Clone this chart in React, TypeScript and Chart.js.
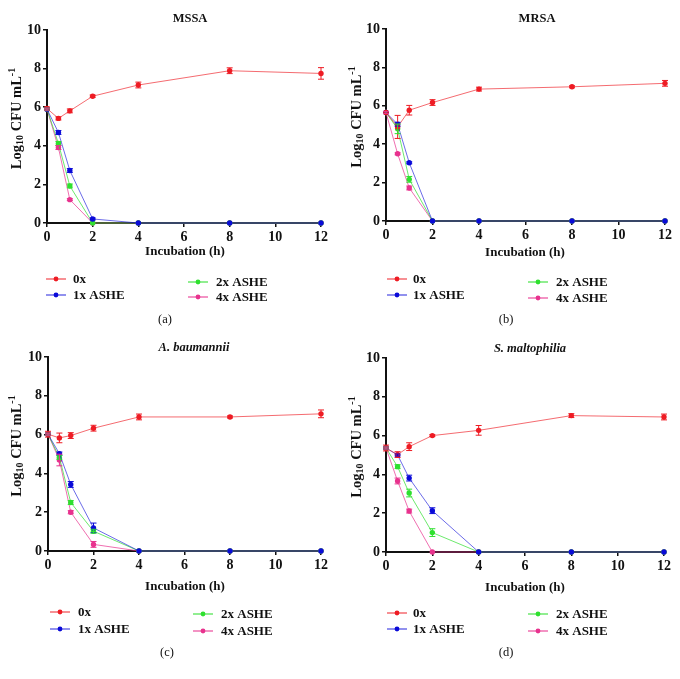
import React, { useEffect, useRef } from "react";
import { Chart, registerables } from "chart.js";
Chart.register(...registerables);

const hours = [0, 0.5, 1, 2, 4, 8, 12];
const seriesLabels = ["0x", "1x ASHE", "2x ASHE", "4x ASHE"];
const pointColors = ["#ee1c24", "#0a0ad8", "#2fe02f", "#e8328e"];
const lineColors = ["rgba(238,28,36,0.65)", "rgba(10,10,216,0.6)", "rgba(47,224,47,0.7)", "rgba(232,50,142,0.7)"];
const panelLetters = ["(a)", "(b)", "(c)", "(d)"];
const panelTitles = ["MSSA", "MRSA", "A. baumannii", "S. maltophilia"];

// MSSA
const mssa0x = [5.93, 5.42, 5.81, 6.57, 7.15, 7.89, 7.75];
const mssa0xErr = [0.08, 0.08, 0.1, 0.06, 0.15, 0.15, 0.3];
const mssa1x = [5.9, 4.69, 2.72, 0.21, 0, 0, 0];
const mssa1xErr = [0.05, 0.1, 0.1, 0.05, 0, 0, 0];
const mssa2x = [5.9, 4.12, 1.92, 0, 0, 0, 0];
const mssa2xErr = [0.05, 0.1, 0.1, 0, 0, 0, 0];
const mssa4x = [5.9, 3.91, 1.21, 0, 0, 0, 0];
const mssa4xErr = [0.05, 0.1, 0.05, 0, 0, 0, 0];

// MRSA
const mrsa0x = [5.65, 4.9, 5.77, 6.17, 6.87, 6.99, 7.17];
const mrsa0xErr = [0.05, 0.6, 0.25, 0.15, 0.1, 0.05, 0.15];
const mrsa1x = [5.65, 5.04, 3.03, 0, 0, 0, 0];
const mrsa1xErr = [0.05, 0.1, 0.05, 0, 0, 0, 0];
const mrsa2x = [5.65, 4.8, 2.17, 0, 0, 0, 0];
const mrsa2xErr = [0.05, 0.25, 0.15, 0, 0, 0, 0];
const mrsa4x = [5.65, 3.5, 1.72, 0, 0, 0, 0];
const mrsa4xErr = [0.05, 0.05, 0.1, 0, 0, 0, 0];

// A. baumannii
const ab0x = [6.02, 5.83, 5.95, 6.33, 6.91, 6.91, 7.07];
const ab0xErr = [0.15, 0.25, 0.15, 0.15, 0.15, 0.05, 0.2];
const ab1x = [6.02, 5.02, 3.43, 1.19, 0, 0, 0];
const ab1xErr = [0.05, 0.08, 0.15, 0.25, 0, 0, 0];
const ab2x = [6.02, 4.83, 2.5, 1.02, 0, 0, 0];
const ab2xErr = [0.05, 0.1, 0.1, 0.1, 0, 0, 0];
const ab4x = [6.02, 4.69, 2.0, 0.34, 0, 0, 0];
const ab4xErr = [0.05, 0.3, 0.08, 0.15, 0, 0, 0];

// S. maltophilia
const sm0x = [5.36, 5.02, 5.43, 6.0, 6.27, 7.03, 6.96];
const sm0xErr = [0.15, 0.15, 0.2, 0.05, 0.25, 0.1, 0.15];
const sm1x = [5.36, 5.0, 3.81, 2.13, 0, 0, 0];
const sm1xErr = [0.05, 0.05, 0.15, 0.15, 0, 0, 0];
const sm2x = [5.36, 4.4, 3.04, 1.0, 0, 0, 0];
const sm2xErr = [0.05, 0.1, 0.2, 0.2, 0, 0, 0];
const sm4x = [5.36, 3.66, 2.11, 0, 0, 0, 0];
const sm4xErr = [0.05, 0.15, 0.1, 0, 0, 0, 0];

const panelSeries = [
  [mssa0x, mssa1x, mssa2x, mssa4x],
  [mrsa0x, mrsa1x, mrsa2x, mrsa4x],
  [ab0x, ab1x, ab2x, ab4x],
  [sm0x, sm1x, sm2x, sm4x],
];
const panelErrors = [
  [mssa0xErr, mssa1xErr, mssa2xErr, mssa4xErr],
  [mrsa0xErr, mrsa1xErr, mrsa2xErr, mrsa4xErr],
  [ab0xErr, ab1xErr, ab2xErr, ab4xErr],
  [sm0xErr, sm1xErr, sm2xErr, sm4xErr],
];

type Layout = {
  ox: number; oy: number;
  l: number; r: number; t: number; b: number;
  titleX: number; titleY: number; xTitleY: number;
  rowsL: number[]; rowsR: number[];
  lineL: number; textL: number; lineR: number; textR: number;
  labX: number; labY: number; italic: boolean;
};

const layouts: Layout[] = [
  { ox: 0, oy: 0, l: 47, r: 321, t: 30, b: 223, titleX: 190, titleY: 14, xTitleY: 252, rowsL: [279, 295], rowsR: [282, 297], lineL: 46, textL: 73, lineR: 188, textR: 216, labX: 165, labY: 320, italic: false },
  { ox: 340, oy: 0, l: 46, r: 325, t: 29, b: 221, titleX: 197, titleY: 14, xTitleY: 253, rowsL: [279, 295], rowsR: [282, 298], lineL: 47, textL: 73, lineR: 188, textR: 216, labX: 166, labY: 320, italic: false },
  { ox: 0, oy: 340, l: 48, r: 321, t: 17, b: 211, titleX: 194, titleY: 3, xTitleY: 247, rowsL: [272, 289], rowsR: [274, 291], lineL: 50, textL: 78, lineR: 193, textR: 221, labX: 167, labY: 313, italic: true },
  { ox: 340, oy: 340, l: 46, r: 324, t: 18, b: 212, titleX: 190, titleY: 4, xTitleY: 248, rowsL: [273, 289], rowsR: [274, 291], lineL: 47, textL: 73, lineR: 188, textR: 216, labX: 166, labY: 313, italic: true },
];

const FONT = "'Liberation Serif', 'DejaVu Serif', serif";
const W = 340, H = 340, YW = 30, XH = 30;

function Panel({ idx }: { idx: number }) {
  const ref = useRef<HTMLCanvasElement | null>(null);
  useEffect(() => {
    const L = layouts[idx];
    const errs = panelErrors[idx];
    const decor = {
      id: "decor",
      afterDatasetsDraw(chart: any) {
        const ctx = chart.ctx;
        const xs = chart.scales.x, ys = chart.scales.y;
        ctx.save();
        chart.data.datasets.forEach((ds: any, di: number) => {
          ctx.strokeStyle = pointColors[di];
          ctx.lineWidth = 1;
          ds.data.forEach((p: any, i: number) => {
            const e = errs[di][i];
            if (!e) return;
            const px = xs.getPixelForValue(p.x);
            const y1 = ys.getPixelForValue(p.y + e);
            const y2 = ys.getPixelForValue(Math.max(0, p.y - e));
            ctx.beginPath();
            ctx.moveTo(px, y1); ctx.lineTo(px, y2);
            ctx.moveTo(px - 3, y1); ctx.lineTo(px + 3, y1);
            ctx.moveTo(px - 3, y2); ctx.lineTo(px + 3, y2);
            ctx.stroke();
          });
        });
        ctx.restore();
      },
      afterDraw(chart: any) {
        const ctx = chart.ctx;
        const ca = chart.chartArea;
        ctx.save();
        ctx.fillStyle = "#111";
        ctx.textBaseline = "middle";
        ctx.textAlign = "center";
        ctx.font = (L.italic ? "italic " : "") + "bold 12.5px " + FONT;
        ctx.fillText(panelTitles[idx], L.titleX, L.titleY + 5);
        ctx.font = "bold 13px " + FONT;
        ctx.fillText("Incubation (h)", 185, L.xTitleY);
        const big = "bold 14.5px " + FONT, small = "bold 10px " + FONT;
        const parts = [
          { t: "Log", f: big, dy: 0 },
          { t: "10", f: small, dy: 3 },
          { t: " CFU mL", f: big, dy: 0 },
          { t: "-1", f: small, dy: -5 },
        ];
        let total = 0;
        parts.forEach((p) => { ctx.font = p.f; total += ctx.measureText(p.t).width; });
        ctx.translate(17, (ca.top + ca.bottom) / 2 - 8);
        ctx.rotate(-Math.PI / 2);
        ctx.textAlign = "left";
        let cx = -total / 2;
        parts.forEach((p) => {
          ctx.font = p.f;
          ctx.fillText(p.t, cx, p.dy);
          cx += ctx.measureText(p.t).width;
        });
        ctx.setTransform(1, 0, 0, 1, 0, 0);
        const entries = [
          { i: 0, x0: L.lineL, tx: L.textL, y: L.rowsL[0] },
          { i: 1, x0: L.lineL, tx: L.textL, y: L.rowsL[1] },
          { i: 2, x0: L.lineR, tx: L.textR, y: L.rowsR[0] },
          { i: 3, x0: L.lineR, tx: L.textR, y: L.rowsR[1] },
        ];
        ctx.font = "bold 13px " + FONT;
        ctx.textAlign = "left";
        entries.forEach((e) => {
          ctx.strokeStyle = lineColors[e.i];
          ctx.lineWidth = 1.5;
          ctx.beginPath();
          ctx.moveTo(e.x0, e.y); ctx.lineTo(e.x0 + 20, e.y);
          ctx.stroke();
          ctx.fillStyle = pointColors[e.i];
          ctx.beginPath();
          ctx.arc(e.x0 + 10, e.y, 2.4, 0, Math.PI * 2);
          ctx.fill();
          ctx.fillStyle = "#111";
          ctx.fillText(chart.data.datasets[e.i].label, e.tx, e.y + 1);
        });
        ctx.font = "12.5px " + FONT;
        ctx.textAlign = "center";
        ctx.fillText(panelLetters[idx], L.labX, L.labY);
        ctx.restore();
      },
    };
    const chart = new Chart(ref.current as HTMLCanvasElement, {
      type: "line",
      data: {
        datasets: panelSeries[idx].map((vals, si) => ({
          label: seriesLabels[si],
          data: hours.map((h, i) => ({ x: h, y: vals[i] })),
          borderColor: lineColors[si],
          backgroundColor: pointColors[si],
          pointBackgroundColor: pointColors[si],
          pointBorderColor: pointColors[si],
          pointRadius: 2.7,
          pointBorderWidth: 0,
          borderWidth: 1,
          tension: 0,
          clip: false as any,
        })),
      },
      options: {
        responsive: false,
        animation: false,
        devicePixelRatio: 1,
        layout: { padding: { left: L.l - YW, right: W - L.r, top: L.t, bottom: H - L.b - XH } },
        plugins: { legend: { display: false }, title: { display: false }, tooltip: { enabled: false } },
        scales: {
          x: {
            type: "linear",
            min: 0, max: 12,
            afterFit: (s: any) => { s.height = XH; },
            ticks: { stepSize: 2, color: "#111", font: { family: FONT, size: 14, weight: "bold" }, padding: 2, maxRotation: 0 },
            grid: { display: true, drawOnChartArea: false, drawTicks: true, tickLength: 4, color: "#111", lineWidth: 1.5 },
            border: { display: true, color: "#111", width: 2 },
          },
          y: {
            type: "linear",
            min: 0, max: 10,
            afterFit: (s: any) => { s.width = YW; },
            ticks: { stepSize: 2, color: "#111", font: { family: FONT, size: 14, weight: "bold" }, padding: 2 },
            grid: { display: true, drawOnChartArea: false, drawTicks: true, tickLength: 4, color: "#111", lineWidth: 1.5 },
            border: { display: true, color: "#111", width: 2 },
          },
        },
      } as any,
      plugins: [decor],
    });
    return () => chart.destroy();
  }, [idx]);
  const L = layouts[idx];
  return (
    <canvas
      ref={ref}
      width={W}
      height={H}
      style={{ position: "absolute", left: L.ox, top: L.oy, width: W, height: H }}
    />
  );
}

export default function App() {
  return (
    <div style={{ position: "absolute", left: 0, top: 0, width: 680, height: 679, background: "#fff" }}>
      {[0, 1, 2, 3].map((i) => (
        <Panel key={i} idx={i} />
      ))}
    </div>
  );
}
